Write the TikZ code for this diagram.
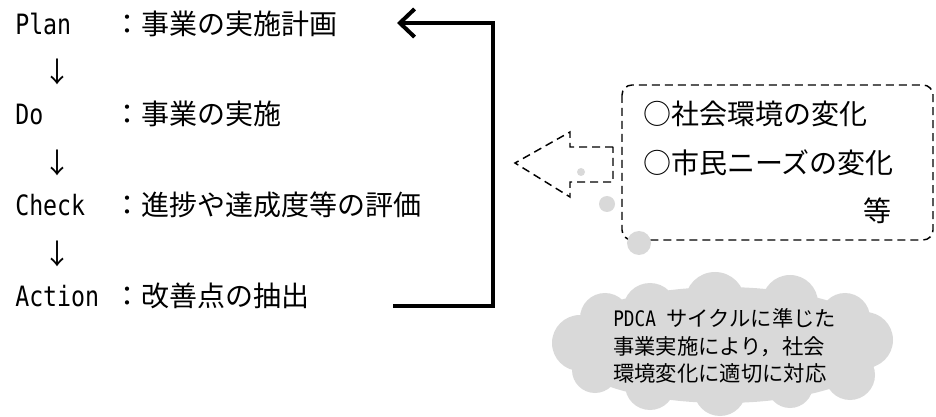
\documentclass[tikz,border=0pt]{standalone}
\usepackage{fontspec}
\usetikzlibrary{arrows.meta}
\newfontfamily\ja{Noto Sans CJK JP}
\newfontfamily\lat[FakeStretch=0.83]{DejaVu Sans Mono}
\definecolor{bubblegray}{HTML}{D9D9D9}
\tikzset{
  mainline/.style={anchor=base west, inner sep=0pt, font=\fontsize{21pt}{25pt}\selectfont\ja},
  downmark/.style={anchor=center, inner sep=0pt, font=\fontsize{21pt}{25pt}\selectfont\ja},
  boxline/.style={inner sep=0pt, font=\fontsize{21pt}{25pt}\selectfont\ja},
  cloudline/.style={anchor=base west, inner sep=0pt, font=\fontsize{16pt}{20pt}\selectfont\ja},
  looparrow/.style={line width=3pt, line join=miter, -{Straight Barb[length=11pt,width=21pt]}},
  dashbox/.style={line width=1.1pt, dash pattern=on 6pt off 3.75pt},
}
\begin{document}
\begin{tikzpicture}[x=0.75pt,y=-0.75pt]
\useasboundingbox (0,0) rectangle (936,417);

% left column
\node[mainline] (plan)   at (15,35)  {\makebox[73.5pt][l]{\lat Plan}：事業の実施計画};
\node[downmark] (d1)     at (57,72)  {↓};
\node[mainline] (do)     at (15,125) {\makebox[73.5pt][l]{\lat Do}：事業の実施};
\node[downmark] (d2)     at (57,163) {↓};
\node[mainline] (check)  at (15,216) {\makebox[73.5pt][l]{\lat Check}：進捗や達成度等の評価};
\node[downmark] (d3)     at (57,254) {↓};
\node[mainline] (action) at (15,306) {\makebox[73.5pt][l]{\lat Action}：改善点の抽出};

% feedback loop arrow
\coordinate (loopS) at (393,306);
\coordinate (loopTurn) at (493,23);
\coordinate (loopE) at (397,23);
\draw[looparrow] (loopS) -| (loopTurn) -- (loopE);

% dashed hollow arrow
\draw[dashbox] (613,147) -- (570,147) -- (570,132) -- (515,163) -- (570,197)
  -- (570,182) -- (613,182) -- cycle;

% dashed rounded box
\draw[dashbox, rounded corners=7.5pt] (622,85) rectangle (933,240);
\node[boxline, anchor=base west] (b1) at (643,125) {○社会環境の変化};
\node[boxline, anchor=base west] (b2) at (643,174) {○市民ニーズの変化};
\node[boxline, anchor=base east] (b3) at (892,222) {等};

% thought bubbles
\fill[bubblegray] (581,172) circle[radius=4];
\fill[bubblegray] (607,204) circle[radius=8];
\fill[bubblegray] (639,243) circle[radius=12];

% cloud
\fill[bubblegray]
  (723,345) ellipse[x radius=163, y radius=58]
  (650,310) circle[radius=27]
  (715,302) circle[radius=30]
  (790,303) circle[radius=28]
  (845,318) circle[radius=25]
  (865,340) circle[radius=28]
  (850,375) circle[radius=25]
  (790,385) circle[radius=23]
  (720,390) circle[radius=26]
  (650,385) circle[radius=25]
  (595,370) circle[radius=23]
  (580,343) circle[radius=28]
  (605,318) circle[radius=25];
\node[cloudline] (c1) at (613,326) {{\lat PDCA }サイクルに準じた};
\node[cloudline] (c2) at (613,354) {事業実施により，社会};
\node[cloudline] (c3) at (613,381) {環境変化に適切に対応};
\end{tikzpicture}
\end{document}
